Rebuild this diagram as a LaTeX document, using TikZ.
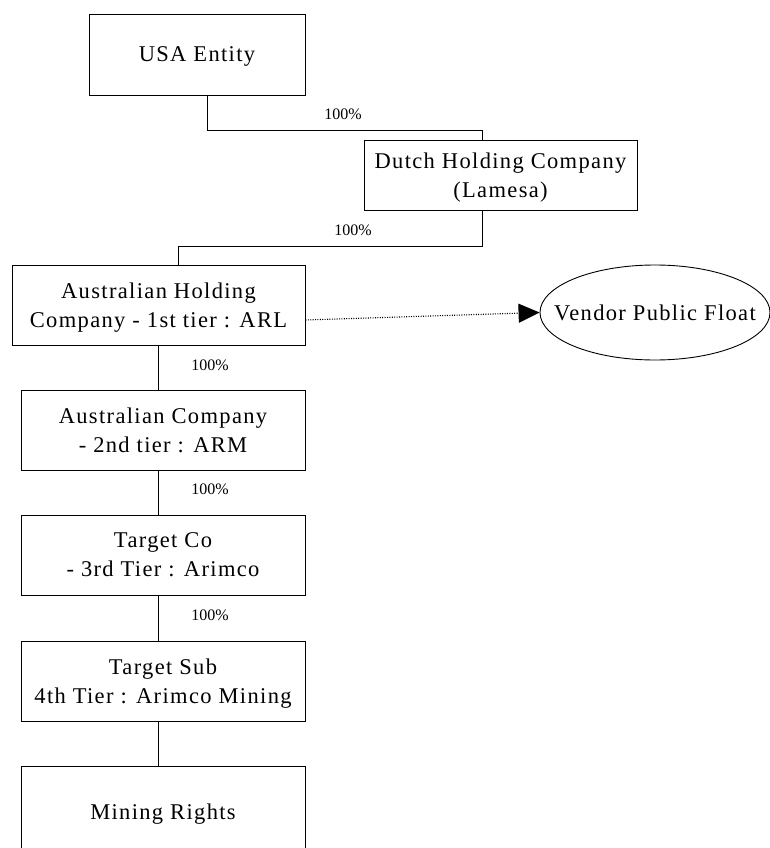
\documentclass[tikz,border=0pt]{standalone}
\usepackage{fontspec}
\setmainfont{Liberation Serif}
\newfontfamily\boxfont[LetterSpace=6]{Liberation Serif}
\usetikzlibrary{arrows.meta,shapes.geometric}
\begin{document}
\begin{tikzpicture}[x=1pt,y=-1pt,
  entity/.style={draw, line width=0.9pt, inner sep=0pt, align=center, text depth=0pt,
    font=\boxfont\fontsize{22.5}{29}\selectfont},
  float/.style={entity, ellipse, inner xsep=-25pt, inner ysep=0pt,
    minimum width=230pt, minimum height=95pt},
  pct/.style={inner sep=0pt, font=\fontsize{16}{19}\selectfont},
  link/.style={line width=0.9pt},
  flow/.style={line width=1.1pt, dash pattern=on 1pt off 1.4pt,
    -{Triangle[length=21pt,width=19pt]}}]
\useasboundingbox (0,0) rectangle (770,848);
\clip (0,0) rectangle (770,848);

\node[entity, minimum width=216pt, minimum height=81pt] (usa) at (197,54.5) {USA Entity};
\node[entity, minimum width=273pt, minimum height=70pt] (dutch) at (500.5,175) {Dutch Holding Company\\(Lamesa)};
\node[entity, minimum width=293pt, minimum height=80pt] (ahc) at (158.5,305) {Australian Holding\\Company - 1st tier : ARL};
\node[float] (vpf) at (655,312.5) {Vendor Public Float};
\node[entity, minimum width=284pt, minimum height=80pt] (ac) at (163,430) {Australian Company\\ - 2nd tier : ARM};
\node[entity, minimum width=284pt, minimum height=80pt] (tc) at (163,555) {Target Co\\ - 3rd Tier : Arimco};
\node[entity, minimum width=284pt, minimum height=80pt] (ts) at (163,681) {Target Sub\\4th Tier : Arimco Mining};
\node[entity, minimum width=284pt, minimum height=92pt] (mr) at (163,812) {Mining Rights};

\draw[link] ([xshift=10pt]usa.south) -- ++(0,35) -| ([xshift=-18.5pt]dutch.north);
\draw[link] ([xshift=-18.5pt]dutch.south) -- ++(0,36) -| ([xshift=19.5pt]ahc.north);
\draw[link] (ahc.south) -- (ahc.south |- ac.north);
\draw[link] (ahc.south |- ac.south) -- (ahc.south |- tc.north);
\draw[link] (ahc.south |- tc.south) -- (ahc.south |- ts.north);
\draw[link] (ahc.south |- ts.south) -- (ahc.south |- mr.north);
\draw[flow] ([yshift=-15pt]ahc.east) -- (vpf.west);

\node[pct] (p1) at (343,114) {100\%};
\node[pct] (p2) at (353,230) {100\%};
\node[pct] (p3) at (210,365) {100\%};
\node[pct] (p4) at (210,489) {100\%};
\node[pct] (p5) at (210,615) {100\%};
\end{tikzpicture}
\end{document}
